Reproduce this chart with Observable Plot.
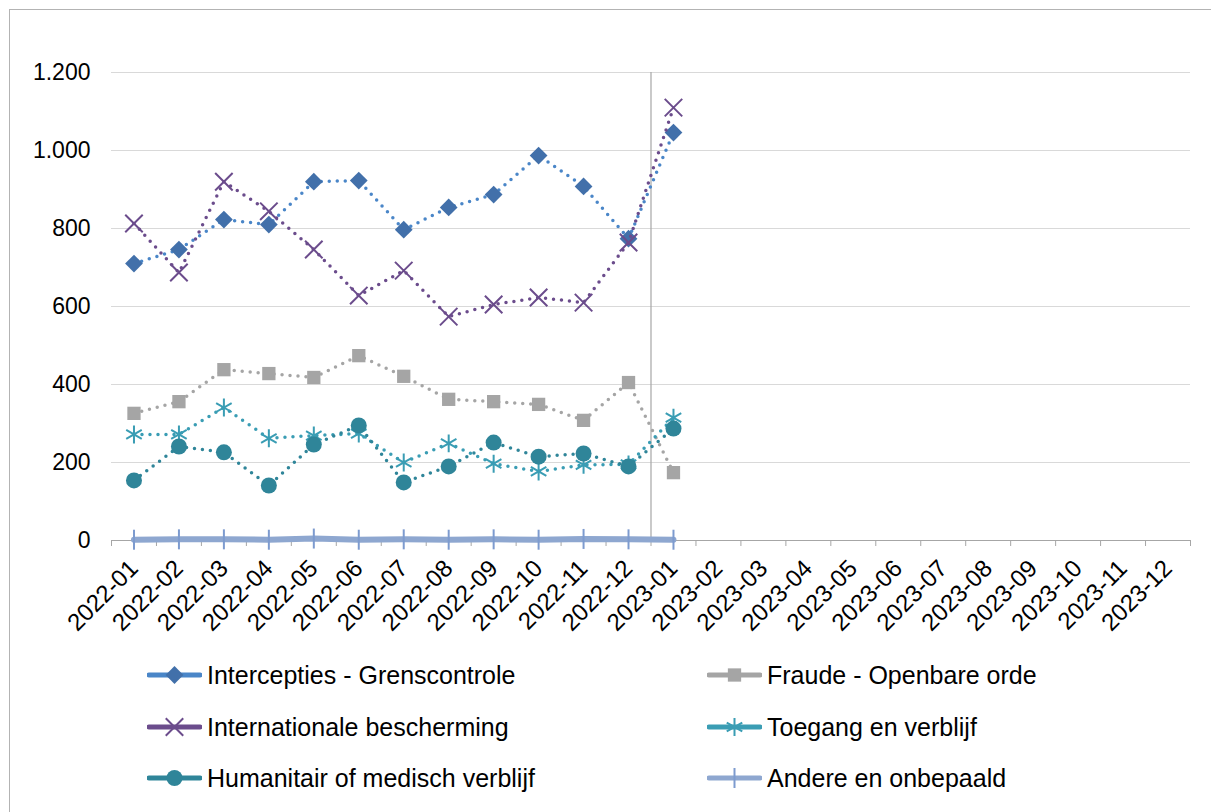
<!DOCTYPE html>
<html><head><meta charset="utf-8">
<script src="https://cdn.jsdelivr.net/npm/d3@7"></script>
<script src="https://cdn.jsdelivr.net/npm/@observablehq/plot@0.6"></script>
<style>
body{margin:0;background:#fff;font-family:"Liberation Sans",Arial,sans-serif;}
#wrap{position:relative;width:1211px;height:812px;overflow:hidden;background:#fff;}
#frame{position:absolute;left:9px;top:9px;width:1400px;height:1000px;border:1px solid #b3b3b3;}
#chart{position:absolute;left:0;top:0;}
.leg{position:absolute;display:flex;align-items:center;font-size:25px;color:#000;white-space:nowrap;height:30px;}
.leg svg{margin-right:5px;display:block;}
</style></head><body>
<div id="wrap"><div id="frame"></div><div id="chart"></div><div id="legend"></div></div>
<script>
const months = ["2022-01","2022-02","2022-03","2022-04","2022-05","2022-06","2022-07","2022-08","2022-09","2022-10","2022-11","2022-12",
  "2023-01","2023-02","2023-03","2023-04","2023-05","2023-06","2023-07","2023-08","2023-09","2023-10","2023-11","2023-12"];
const yTicks = [0, 200, 400, 600, 800, 1000, 1200];
const splitMonth = "2023-01";
const seriesNames = ["Intercepties - Grenscontrole","Fraude - Openbare orde","Internationale bescherming","Toegang en verblijf","Humanitair of medisch verblijf","Andere en onbepaald"];
const intercepties = [710, 746, 823, 810, 920, 923, 797, 854, 887, 987, 908, 774, 1046];
const fraude       = [326, 356, 438, 428, 418, 474, 421, 362, 356, 349, 308, 405, 174];
const internationaal = [813, 687, 920, 844, 746, 628, 692, 574, 605, 623, 610, 764, 1110];
const toegang      = [272, 272, 341, 262, 269, 274, 200, 249, 197, 177, 194, 195, 315];
const humanitair   = [154, 241, 226, 141, 246, 295, 149, 190, 251, 215, 223, 190, 287];
const andere       = [2, 3, 3, 2, 5, 2, 3, 2, 3, 2, 4, 3, 2];

const tickSymbol = {draw(ctx, size){ const h = Math.sqrt(size / Math.PI); ctx.moveTo(0, -h); ctx.lineTo(0, h); }};

const styles = [
  {values: intercepties, line:"#4a86c8", mark:"#4270aa", symbol:"diamond2", r:8, kind:"fill", dotted:true},
  {values: fraude, line:"#a5a5a5", mark:"#a5a5a5", symbol:"square", r:7.5, kind:"fill", dotted:true},
  {values: internationaal, line:"#6b4c8c", mark:"#6b4c8c", symbol:"times", r:8, kind:"stroke", dotted:true},
  {values: toegang, line:"#3a9db4", mark:"#3a9db4", symbol:"asterisk", r:8.5, kind:"stroke", dotted:true},
  {values: humanitair, line:"#2f8599", mark:"#2f8599", symbol:"circle", r:8, kind:"fill", dotted:true},
  {values: andere, line:"#8ea7d0", mark:"#7d9bcf", symbol:tickSymbol, r:10, kind:"stroke", dotted:false}
];

const nf = d3.formatLocale({decimal:",", thousands:".", grouping:[3], currency:["",""]}).format(",");
const splitIndex = months.indexOf(splitMonth) - 0.5;
const boundaries = d3.range(months.length + 1).map(i => i - 0.5);

const marks = [
  Plot.gridY(yTicks.filter(d => d > 0), {stroke:"#d9d9d9", strokeOpacity:1, strokeWidth:1.2}),
  Plot.axisY({ticks: yTicks, tickSize:0, tickPadding:21, tickFormat: nf, fontSize:23, fill:"#000", label:null}),
  Plot.axisX({ticks: boundaries, tickSize:6, tickFormat: () => "", stroke:"#a6a6a6", label:null}),
  Plot.axisX({ticks: d3.range(months.length), tickSize:0, tickRotate:-45, tickPadding:24, tickFormat: i => months[i], fontSize:24, fill:"#000", label:null}),
  Plot.ruleY([0], {stroke:"#a6a6a6", strokeWidth:1.2}),
  Plot.ruleX([splitIndex], {y1:0, y2:yTicks[yTicks.length-1], stroke:"#a6a6a6", strokeWidth:1.2})
];

styles.forEach((s, k) => {
  const rows = s.values.map((v, i) => ({i, v, name: seriesNames[k]}));
  if (s.dotted) {
    marks.push(Plot.line(rows, {x:"i", y:"v", stroke:s.line, strokeWidth:3.5, strokeDasharray:"0 8", strokeLinecap:"round"}));
  } else {
    marks.push(Plot.line(rows, {x:"i", y:"v", stroke:s.line, strokeWidth:6, strokeLinecap:"round"}));
  }
  if (s.kind === "fill") {
    marks.push(Plot.dot(rows, {x:"i", y:"v", symbol:s.symbol, r:s.r, fill:s.mark, stroke:"none"}));
  } else {
    marks.push(Plot.dot(rows, {x:"i", y:"v", symbol:s.symbol, r:s.r, fill:"none", stroke:s.mark, strokeWidth:2}));
  }
});

const chart = Plot.plot({
  width: 1211, height: 660,
  marginLeft: 111, marginRight: 21, marginTop: 72, marginBottom: 120,
  style: {fontFamily: '"Liberation Sans", Arial, sans-serif', background: "transparent"},
  x: {type:"linear", domain:[-0.5, months.length - 0.5], label:null},
  y: {type:"linear", domain:[0, yTicks[yTicks.length-1]], label:null},
  marks
});
document.getElementById("chart").appendChild(chart);

// legend
const legend = document.getElementById("legend");
const legPos = [[147, 675],[707, 675],[147, 727],[707, 727],[147, 778],[707, 778]];
styles.forEach((s, k) => {
  const div = document.createElement("div");
  div.className = "leg";
  div.style.left = legPos[k][0] + "px";
  div.style.top = (legPos[k][1] - 15) + "px";
  const svg = d3.create("svg").attr("width", 55).attr("height", 30);
  svg.append("line").attr("x1", 2).attr("x2", 53).attr("y1", 15).attr("y2", 15)
    .attr("stroke", s.line).attr("stroke-width", 5).attr("stroke-linecap", "round");
  const symMap = {diamond2: d3.symbolDiamond2, square: d3.symbolSquare, times: d3.symbolTimes, asterisk: d3.symbolAsterisk, circle: d3.symbolCircle};
  const sym = typeof s.symbol === "string" ? symMap[s.symbol] : s.symbol;
  const path = svg.append("path").attr("transform", "translate(27.5,15)")
    .attr("d", d3.symbol(sym, Math.PI * s.r * s.r)());
  if (s.kind === "fill") path.attr("fill", s.mark);
  else path.attr("fill", "none").attr("stroke", s.mark).attr("stroke-width", 2);
  div.appendChild(svg.node());
  const span = document.createElement("span");
  span.textContent = seriesNames[k];
  div.appendChild(span);
  legend.appendChild(div);
});
</script>
</body></html>
